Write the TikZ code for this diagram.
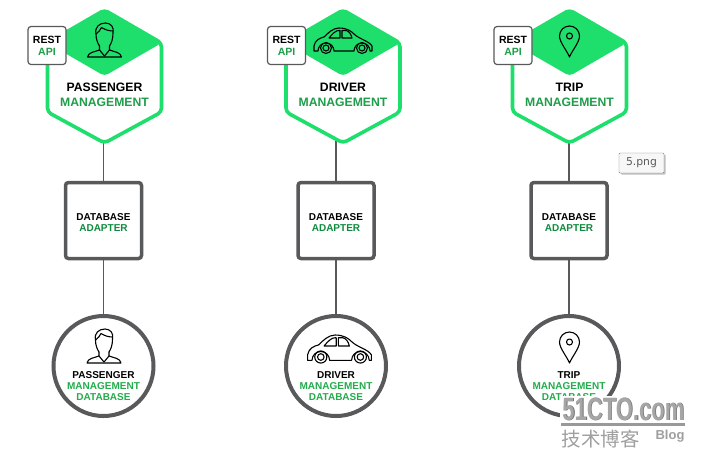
\documentclass[tikz,border=0pt]{standalone}
\usepackage{fontspec}
\setmainfont{Liberation Sans}
\newfontfamily\tipfont{DejaVu Sans}
\newfontfamily\cjkfont{Noto Sans CJK SC}
\usetikzlibrary{shadows}
\definecolor{hexgreen}{HTML}{1EDF6C}
\definecolor{midgreen}{HTML}{1F9E4A}
\definecolor{dbgreen}{HTML}{22AC4C}
\definecolor{darkgreen}{HTML}{0F8A3E}
\definecolor{edgegray}{HTML}{58595B}
\tikzset{
  link/.style={edgegray,line width=1.3pt},
  adapterbox/.style={draw=edgegray,fill=white,line width=3.5pt,rounded corners=3pt,minimum size=76pt,inner sep=0pt},
  dbcircle/.style={circle,draw=edgegray,fill=white,line width=4pt,minimum size=100pt,inner sep=0pt},
  restbox/.style={draw=edgegray,fill=white,line width=1.2pt,rounded corners=3pt,minimum size=38pt,inner sep=0pt},
  label/.style={anchor=base,inner sep=0pt,font=\bfseries},
  icon/.style={black,line width=1.1pt,line join=round,line cap=round},
  person/.pic={
    \draw[icon] (-5,-23) .. controls (-7,-20) and (-8.5,-16) .. (-8.5,-11)
      .. controls (-10,-4) and (-5,0) .. (1,0) .. controls (6,0) and (10,-4) .. (8.5,-10)
      .. controls (8.5,-16) and (7,-20) .. (5,-23);
    \draw[icon] (-8.5,-11) .. controls (-6,-9) and (-4,-7) .. (-3,-4.5) .. controls (1,-7) and (5,-8) .. (8.5,-8);
    \draw[icon] (-5,-23) -- (-5,-27) .. controls (-10,-29) and (-16,-29) .. (-17,-34) -- (17,-34)
      .. controls (16,-29) and (10,-29) .. (5,-27) -- (5,-23);
    \draw[icon] (-5,-27) -- (0,-33) -- (5,-27);
  },
  car/.pic={
    \draw[icon] (-29,-23) -- (-29,-18) .. controls (-28,-12) and (-23,-10) .. (-19,-9)
      .. controls (-15,-5) and (-10,0) .. (-4,0) .. controls (4,0) and (8,-3) .. (11,-6)
      .. controls (16,-11) and (26,-13) .. (29,-18) -- (29,-23) -- (27,-23)
      arc[start angle=0,end angle=180,radius=8] -- (-9,-23)
      arc[start angle=0,end angle=180,radius=8] -- cycle;
    \draw[icon] (-14,-10) .. controls (-10,-5) and (-7,-2.5) .. (-4,-2.5) -- (-3,-2.5) -- (-3,-10) -- cycle;
    \draw[icon] (-1,-2.5) -- (3,-2.5) .. controls (6,-3) and (8,-6) .. (9,-10) -- (-1,-10) -- cycle;
    \foreach \wx in {-17,19} {
      \draw[icon] (\wx,-20) circle[radius=5.5];
      \draw[icon] (\wx,-20) circle[radius=3];
    }
  },
  pin/.pic={
    \draw[icon] (0,-31) .. controls (-3,-24) and (-10,-16) .. (-10,-10)
      arc[start angle=180,end angle=0,radius=10] .. controls (10,-16) and (3,-24) .. (0,-31) -- cycle;
    \draw[icon] (0,-10) circle[radius=3];
  },
}
\begin{document}
\begin{tikzpicture}[x=1pt,y=1pt]
\useasboundingbox[fill=white] (0,0) rectangle (704,-467);
% one column for each service: hexagon, adapter, database
\foreach \n/\hx/\lx/\bx/\nm/\ic/\hy/\dy/\ix/\is in {
  pass/104.5/103.5/47/PASSENGER/person/23/329/104/1,
  driver/343/336/286.5/DRIVER/car/28/335/339.5/1.1,
  trip/569.5/569/513/TRIP/pin/26/332/569.5/1} {
  \coordinate (top\n) at (\lx,-140);
  \node[adapterbox] (adapter\n) at (\lx,-220.5) {};
  \node[dbcircle] (db\n) at (\lx,-366) {};
  \draw[link] (top\n) -- (adapter\n);
  \draw[link] (adapter\n) -- (db\n);
  % hexagon
  \draw[hexgreen,fill=white,line width=3.6pt,rounded corners=4pt]
    (\hx,-10) -- ({\hx+57},-43) -- ({\hx+57},-112) -- (\hx,-143) -- ({\hx-57},-112) -- ({\hx-57},-43) -- cycle;
  \fill[hexgreen,rounded corners=4pt] (\hx,-10) -- ({\hx+57},-43) -- (\hx,-76) -- ({\hx-57},-43) -- cycle;
  \pic at (\hx,-\hy) {\ic};
  \pic[scale=\is] at (\ix,-\dy) {\ic};
  \node[restbox] (rest\n) at (\bx,-45.5) {};
  \node[label,font=\bfseries\fontsize{10.5}{11}\selectfont] (restt\n) at (\bx,-43) {REST};
  \node[label,midgreen,font=\bfseries\fontsize{10.5}{11}\selectfont] (resta\n) at (\bx,-55) {API};
  \node[label,font=\bfseries\fontsize{12.2}{12}\selectfont] (title\n) at (\hx,-91) {\nm};
  \node[label,midgreen,font=\bfseries\fontsize{12.2}{12}\selectfont] (mgmt\n) at (\hx,-106.5) {MANAGEMENT};
  \node[label,font=\bfseries\fontsize{10}{10}\selectfont] (adt\n) at (\lx,-220) {DATABASE};
  \node[label,darkgreen,font=\bfseries\fontsize{10}{10}\selectfont] (ada\n) at (\lx,-231) {ADAPTER};
  \node[label,font=\bfseries\fontsize{10}{10}\selectfont] (dbt\n) at (\lx,-378.5) {\nm};
  \node[label,dbgreen,font=\bfseries\fontsize{10}{10}\selectfont] (dbm\n) at (\lx,-389.5) {MANAGEMENT};
  \node[label,dbgreen,font=\bfseries\fontsize{10}{10}\selectfont] (dbd\n) at (\lx,-400.5) {DATABASE};
}
% file name tip
\node[draw=gray,fill=gray!6,rounded corners=1pt,minimum width=45pt,minimum height=20pt,inner sep=0pt,
  font=\tipfont\fontsize{10.8}{11}\selectfont,text=black!65,
  drop shadow={shadow xshift=1.5pt,shadow yshift=-1.5pt,opacity=.5}] (tip) at (641.5,-163) {5.png};
% watermark
\fill[white] (560,-396) rectangle (687,-452);
\node[label,gray!90!black,font=\bfseries\fontsize{22}{22}\selectfont] (wmback) at (624.2,-420.6) {\scalebox{1}[1.46]{51CTO.com}};
\node[label,gray!70,font=\bfseries\fontsize{22}{22}\selectfont] (wm) at (623.4,-420) {\scalebox{1}[1.46]{51CTO.com}};
\fill[gray!80] (561,-423) rectangle (685,-425.5);
\node[label,gray!75,font=\cjkfont\fontsize{19.5}{20}\selectfont] (wmcn) at (600.5,-446) {技术博客};
\node[label,gray!75,font=\bfseries\fontsize{13}{13}\selectfont] (wmblog) at (670,-439.5) {Blog};
\end{tikzpicture}
\end{document}
